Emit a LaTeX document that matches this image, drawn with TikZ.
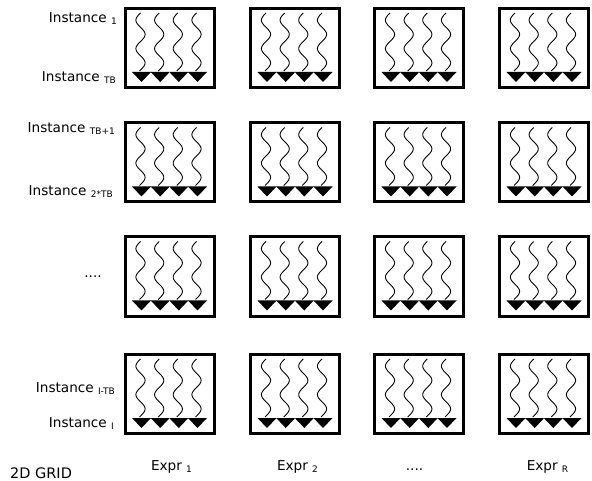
\documentclass[tikz,border=0pt]{standalone}
\usepackage{fontspec}
\setmainfont{DejaVu Sans}
\newcommand{\subtxt}[1]{\raisebox{-2pt}{\fontsize{9}{9}\selectfont #1}}
\begin{document}
\begin{tikzpicture}[x=1pt,y=-1pt,
  gridbox/.style={draw, line width=3pt, minimum width=89pt, minimum height=79pt, inner sep=0pt},
  lbl/.style={font=\fontsize{13.6}{16}\selectfont, inner sep=0pt},
  wave/.style={line width=0.9pt},
  tipshape/.style={fill=black}]
\useasboundingbox (0,0) rectangle (592,481);
\foreach \r/\cy in {1/48, 2/162.5, 3/276.5, 4/394} {
  \foreach \c/\cx in {1/169.5, 2/295, 3/419, 4/544} {
    \node[gridbox] (b\r\c) at (\cx,\cy) {};
    \foreach \dx in {-28, -9.3, 9.3, 28} {
      \draw[wave] plot[domain=0:58, samples=50, smooth] ({\cx+\dx-1-4.6*sin(\x*12.63)}, {\cy-35+\x});
      \fill[tipshape] (\cx+\dx-9.5, \cy+24) -- (\cx+\dx+9.5, \cy+24) -- (\cx+\dx, \cy+34) -- cycle;
    }
  }
}
\node[lbl, anchor=base east] (i1) at (117,23) {Instance \subtxt{1}};
\node[lbl, anchor=base east] (itb) at (116,82) {Instance \subtxt{TB}};
\node[lbl, anchor=base east] (itb1) at (115,133) {Instance \subtxt{TB+1}};
\node[lbl, anchor=base east] (i2tb) at (113,196) {Instance \subtxt{2*TB}};
\node[lbl, anchor=base] (dots) at (93,277) {....};
\node[lbl, anchor=base east] (iitb) at (115,392) {Instance \subtxt{I-TB}};
\node[lbl, anchor=base east] (ii) at (114,427) {Instance \subtxt{I}};
\node[lbl, anchor=base west, font=\fontsize{14.5}{16}\selectfont] (grid) at (10,478) {2D GRID};
\node[lbl, anchor=base] (e1) at (171.5,470) {Expr \subtxt{1}};
\node[lbl, anchor=base] (e2) at (297.5,470) {Expr \subtxt{2}};
\node[lbl, anchor=base] (e3) at (414.5,470) {....};
\node[lbl, anchor=base] (er) at (547.5,470) {Expr \subtxt{R}};
\end{tikzpicture}
\end{document}
